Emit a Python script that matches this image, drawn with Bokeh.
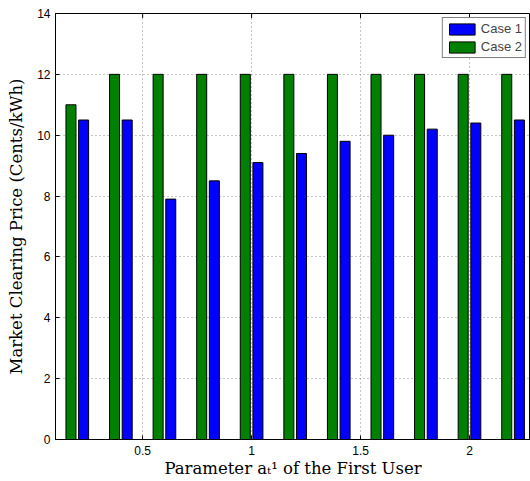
import math
from bokeh.plotting import figure
from bokeh.models import Range1d, FixedTicker, Legend, LegendItem
from bokeh.embed import file_html
from bokeh.resources import INLINE

params = [0.2, 0.4, 0.6, 0.8, 1.0, 1.2, 1.4, 1.6, 1.8, 2.0, 2.2]
case1 = [10.5, 10.5, 7.9, 8.5, 9.1, 9.4, 9.8, 10.0, 10.2, 10.4, 10.5]
case2 = [11.0, 12, 12, 12, 12, 12, 12, 12, 12, 12, 12]
x_ticks = [0.5, 1, 1.5, 2]
y_ticks = [0, 2, 4, 6, 8, 10, 12, 14]
y_top = 14

bar_w = 0.046
off = 0.029

p = figure(width=530, height=481, output_backend="svg", toolbar_location=None,
           x_range=Range1d(0.1, 2.28), y_range=Range1d(0, y_top),
           min_border_left=55, min_border_right=0, min_border_top=13,
           min_border_bottom=42)

x2 = [v - off for v in params]
x1 = [v + off for v in params]
r2 = p.vbar(x=x2, top=case2, width=bar_w, bottom=0, fill_color="#008000",
            line_color="black", line_width=1)
r1 = p.vbar(x=x1, top=case1, width=bar_w, bottom=0, fill_color="#0000ff",
            line_color="black", line_width=1)

# inward tick marks on the top border
p.scatter(x=x_ticks, y=[y_top] * len(x_ticks), marker="dash", size=9,
          angle=math.pi / 2, line_color="black", line_width=1)

p.xaxis.ticker = FixedTicker(ticks=x_ticks)
p.yaxis.ticker = FixedTicker(ticks=y_ticks)
p.xaxis.minor_tick_line_color = None
p.yaxis.minor_tick_line_color = None
for ax in (p.xaxis[0], p.yaxis[0]):
    ax.major_tick_in = 4
    ax.major_tick_out = 0
    ax.axis_line_color = "black"
    ax.major_tick_line_color = "black"
    ax.major_label_text_font = "Liberation Sans"
    ax.major_label_text_font_size = "12px"
    ax.major_label_text_color = "black"
    ax.axis_label_text_font = "DejaVu Serif"
    ax.axis_label_text_font_style = "normal"
    ax.axis_label_text_font_size = "16.5px"
    ax.axis_label_text_color = "black"

p.xaxis.axis_label = "Parameter a\u209c\u00b9 of the First User"
p.yaxis.axis_label = "Market Clearing Price (Cents/kWh)"
p.xaxis.axis_label_standoff = 1
p.yaxis.axis_label_standoff = 8
p.xaxis.major_label_standoff = 6
p.yaxis.major_label_standoff = 5

p.grid.grid_line_color = "#888888"
p.grid.grid_line_dash = "1 3"
p.xgrid.ticker = FixedTicker(ticks=x_ticks)
p.ygrid.ticker = FixedTicker(ticks=y_ticks)
p.outline_line_color = "black"
p.background_fill_color = "white"
p.border_fill_color = "white"

legend = Legend(items=[LegendItem(label="Case 1", renderers=[r1]),
                       LegendItem(label="Case 2", renderers=[r2])],
                location="top_right")
legend.border_line_color = "black"
legend.border_line_width = 1
legend.label_text_font = "Liberation Sans"
legend.label_text_font_size = "13px"
legend.glyph_width = 32
legend.glyph_height = 14
legend.label_height = 14
legend.padding = 3
legend.spacing = 3
legend.margin = 4
legend.label_standoff = 3
legend.background_fill_alpha = 1
p.add_layout(legend)

open("out.html", "w").write(file_html(p, INLINE))
